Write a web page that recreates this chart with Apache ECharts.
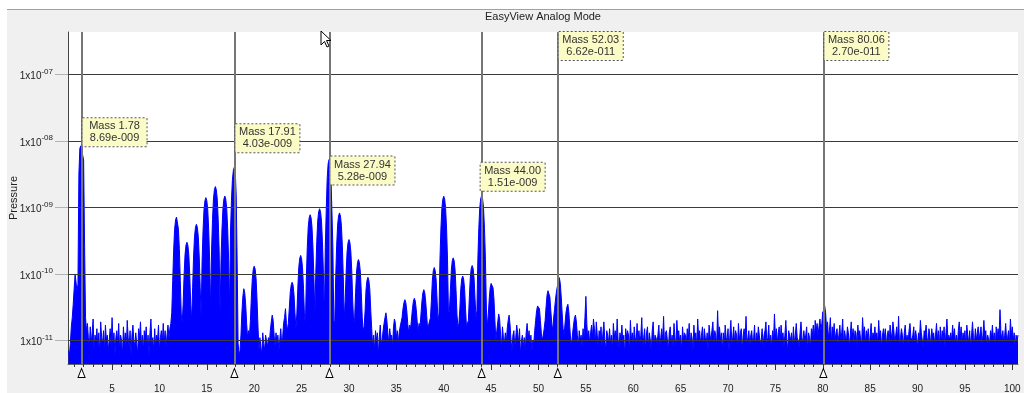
<!DOCTYPE html>
<html><head><meta charset="utf-8">
<script src="https://cdn.jsdelivr.net/npm/echarts@6/dist/echarts.min.js"></script>
<style>html,body{margin:0;padding:0;background:#fff}#chart{width:1024px;height:393px}</style>
</head><body><div id="chart"></div>
<script>
// Scan: one sample every 0.1 amu starting at 0.4 amu; pressures in units of 1e-12 Torr
const massStart = 0.4, massStep = 0.1, pressureUnit = 1e-12;

const pressure_00_10 = [7,
  6, 9, 16, 22, 35, 60, 100, 75, 55, 70,
  3200, 7800, 8500, 8690, 8200, 5200, 260, 22, 14, 18,
  11, 8, 16, 9, 13, 21, 7, 12, 10, 15,
  8, 13, 6, 19, 11, 9, 14, 7, 17, 10,
  12, 7, 10, 15, 8, 22, 9, 13, 6, 11,
  14, 9, 18, 7, 12, 10, 6, 16, 9, 13,
  7, 20, 11, 8, 14, 6, 12, 17, 10, 8,
  13, 9, 6, 15, 11, 19, 8, 12, 7, 14,
  10, 16, 8, 12, 6, 13, 21, 9, 11, 7,
  15, 8, 12, 10, 17, 7, 11, 14, 9, 18];
const pressure_10_20 = [
  9, 14, 8, 12, 17, 11, 15, 18, 26, 80,
  230, 470, 650, 720, 680, 480, 240, 80, 25, 18,
  35, 96, 195, 270, 300, 270, 195, 96, 35, 20,
  62, 180, 364, 504, 560, 504, 364, 180, 62, 22,
  155, 450, 917, 1270, 1410, 1270, 917, 450, 155, 28,
  228, 662, 1345, 1863, 2070, 1863, 1345, 662, 228, 25,
  164, 477, 970, 1340, 1490, 1340, 970, 477, 164, 30,
  443, 1290, 2620, 3630, 4030, 3600, 1500, 150, 9, 6,
  7, 12, 26, 45, 60, 52, 35, 18, 11, 14,
  12, 20, 45, 85, 118, 131, 118, 85, 40, 16];
const pressure_20_30 = [
  7, 11, 8, 6, 13, 9, 7, 12, 10, 8,
  11, 9, 14, 19, 24, 20, 12, 8, 13, 9,
  12, 7, 10, 15, 9, 11, 18, 22, 30, 18,
  14, 18, 30, 52, 68, 75, 68, 49, 26, 15,
  25, 61, 124, 171, 190, 171, 124, 61, 25, 16,
  86, 250, 507, 702, 780, 702, 507, 250, 86, 24,
  106, 307, 624, 864, 960, 864, 624, 307, 106, 22,
  250, 900, 2700, 4540, 5280, 4540, 2700, 900, 250, 20,
  18, 91, 266, 540, 747, 830, 747, 540, 266, 91,
  20, 40, 106, 215, 297, 330, 297, 215, 106, 38];
const pressure_30_40 = [
  18, 22, 53, 107, 149, 165, 149, 107, 53, 22,
  14, 16, 28, 58, 80, 89, 80, 58, 28, 15,
  8, 12, 7, 14, 10, 13, 6, 11, 17, 9,
  10, 14, 18, 22, 26, 20, 13, 9, 15, 11,
  12, 8, 16, 21, 18, 11, 14, 9, 13, 16,
  16, 22, 30, 37, 41, 37, 28, 18, 13, 17,
  15, 21, 30, 39, 43, 39, 29, 19, 14, 18,
  16, 25, 39, 52, 58, 52, 38, 24, 15, 14,
  16, 22, 40, 81, 112, 125, 112, 81, 40, 20,
  25, 163, 474, 962, 1332, 1480, 1332, 962, 474, 163];
const pressure_40_50 = [
  25, 28, 56, 114, 158, 175, 158, 114, 56, 24,
  16, 18, 30, 60, 84, 93, 84, 60, 30, 16,
  15, 20, 43, 87, 121, 134, 121, 87, 43, 22,
  28, 166, 483, 982, 1359, 1510, 1359, 982, 483, 166,
  30, 16, 24, 42, 62, 72, 74, 62, 42, 20,
  10, 14, 19, 25, 21, 12, 8, 16, 11, 9,
  13, 9, 15, 20, 24, 17, 10, 7, 12, 14,
  8, 11, 17, 13, 9, 15, 6, 10, 12, 8,
  11, 7, 13, 18, 10, 14, 9, 12, 7, 10,
  9, 14, 20, 28, 33, 35, 30, 20, 13, 10];
const pressure_50_60 = [
  12, 15, 20, 32, 48, 56, 58, 45, 28, 18,
  14, 22, 30, 42, 55, 66, 80, 88, 72, 45,
  25, 15, 12, 18, 26, 32, 35, 27, 16, 10,
  9, 13, 17, 22, 24, 19, 12, 8, 14, 10,
  12, 8, 15, 11, 22, 46, 18, 10, 14, 9,
  13, 17, 11, 21, 15, 9, 19, 12, 8, 14,
  11, 16, 8, 13, 19, 10, 7, 14, 12, 9,
  15, 9, 12, 7, 18, 11, 14, 8, 21, 10,
  8, 13, 10, 17, 9, 12, 6, 15, 11, 14,
  12, 7, 20, 10, 13, 8, 16, 11, 9, 18];
const pressure_60_70 = [
  10, 14, 9, 12, 22, 8, 11, 15, 7, 13,
  16, 8, 13, 10, 7, 14, 19, 9, 12, 11,
  9, 12, 17, 8, 11, 15, 10, 23, 8, 13,
  14, 10, 7, 13, 16, 9, 12, 8, 18, 11,
  8, 20, 11, 14, 9, 12, 7, 16, 10, 13,
  12, 9, 15, 10, 18, 8, 13, 11, 7, 17,
  10, 13, 8, 21, 11, 14, 9, 12, 16, 8,
  15, 11, 9, 13, 7, 17, 12, 10, 14, 19,
  9, 14, 12, 8, 28, 11, 16, 10, 13, 7,
  13, 8, 17, 11, 10, 15, 7, 12, 20, 9];
const pressure_70_80 = [
  11, 16, 9, 14, 12, 8, 18, 10, 13, 15,
  7, 12, 15, 10, 23, 9, 11, 14, 8, 12,
  14, 9, 11, 17, 8, 13, 10, 16, 12, 9,
  10, 15, 8, 12, 14, 19, 9, 11, 17, 8,
  12, 8, 14, 10, 25, 11, 15, 9, 13, 16,
  9, 17, 11, 13, 8, 12, 20, 10, 7, 14,
  15, 10, 13, 8, 16, 9, 12, 18, 11, 10,
  8, 13, 19, 11, 9, 14, 10, 12, 16, 7,
  13, 11, 8, 15, 12, 17, 10, 20, 14, 18,
  12, 16, 21, 14, 18, 27, 24, 33, 26, 15];
const pressure_80_90 = [
  19, 11, 14, 22, 9, 16, 12, 18, 10, 13,
  15, 9, 12, 17, 10, 13, 21, 8, 14, 11,
  10, 16, 13, 8, 12, 19, 11, 15, 9, 14,
  13, 8, 17, 11, 14, 10, 9, 22, 12, 16,
  9, 14, 11, 15, 8, 12, 18, 10, 13, 11,
  16, 10, 13, 9, 20, 11, 14, 8, 12, 15,
  11, 15, 8, 12, 14, 9, 17, 13, 10, 19,
  14, 9, 12, 16, 10, 23, 8, 11, 15, 12,
  8, 13, 17, 10, 12, 9, 14, 18, 11, 10,
  12, 16, 9, 14, 11, 8, 13, 10, 20, 13];
const pressure_90_100 = [
  10, 8, 14, 12, 17, 11, 9, 15, 12, 8,
  15, 11, 13, 9, 12, 18, 10, 14, 8, 16,
  9, 14, 10, 16, 8, 13, 21, 11, 12, 10,
  13, 10, 17, 11, 15, 9, 12, 8, 14, 19,
  11, 16, 9, 13, 10, 14, 8, 17, 12, 9,
  14, 8, 12, 19, 11, 9, 15, 10, 13, 16,
  10, 13, 16, 9, 12, 20, 11, 14, 8, 12,
  12, 9, 14, 11, 17, 10, 13, 8, 16, 11,
  15, 11, 29, 13, 10, 14, 9, 12, 18, 10,
  11, 14, 9, 21, 12, 16, 10, 13, 8, 12,
  10, 12];

// Cursor markers (mass, pressure)
const markerMass = [1.78, 17.91, 27.94, 44.00, 52.03, 80.06];
const markerPressure = [8.69e-9, 4.03e-9, 5.28e-9, 1.51e-9, 6.62e-11, 2.70e-11];

// Axis ticks / labels
const xLabelValues = [5, 10, 15, 20, 25, 30, 35, 40, 45, 50, 55, 60, 65, 70, 75, 80, 85, 90, 95, 100];
const yTickValues = [1e-11, 1e-10, 1e-9, 1e-8, 1e-7];
const xMin = 0.35, xMax = 100.6;
const yMin = 4.41e-12, yMax = 4.40e-7;

const pressure = [].concat(pressure_00_10, pressure_10_20, pressure_20_30, pressure_30_40, pressure_40_50,
  pressure_50_60, pressure_60_70, pressure_70_80, pressure_80_90, pressure_90_100);
const seriesData = pressure.map((p, i) => [+(massStart + i * massStep).toFixed(2), p * pressureUnit]);
const minorTicks = [];
for (let m = 1; m <= 100; m++) minorTicks.push(m);

function fmtP(v) {
  const s = v.toExponential(2).split('e');
  const n = parseInt(s[1], 10);
  return s[0] + 'e' + (n < 0 ? '-' : '+') + String(Math.abs(n)).padStart(3, '0');
}

// label placement (style only)
const labelAnchorTop = [false, false, false, false, true, true];
const labelDx = [1, 1, 1, -1, 1, 1];
const labelDy = [-27, -43, -3, -33, 0, 0];
const FONT = 'Liberation Sans, Arial, sans-serif';

const labelPoints = markerMass.map((m, i) => ({
  coord: [m, labelAnchorTop[i] ? yMax : markerPressure[i]],
  symbol: 'rect', symbolSize: 0,
  label: {
    show: true, position: [labelDx[i], labelDy[i]], align: 'left', verticalAlign: 'top',
    formatter: '{t|Mass ' + m.toFixed(2) + '}\n{t|' + fmtP(markerPressure[i]) + '}',
    rich: { t: { fontFamily: FONT, fontSize: 11, color: '#333', lineHeight: 12, width: 56, align: 'center' } },
    padding: [2, 4, 2, 4],
    backgroundColor: '#fbfbc6', borderColor: '#555', borderWidth: 1, borderType: 'dotted'
  }
}));
const trianglePoints = markerMass.map(m => ({
  coord: [m, yMin], symbol: 'triangle', symbolSize: [7, 9], symbolOffset: [0, 9],
  itemStyle: { color: '#fff', borderColor: '#000', borderWidth: 1 },
  label: { show: false }
}));
const gridLines = yTickValues.map(v => [
  { coord: [xMin, v], lineStyle: { color: '#3a3a3a', width: 1, type: 'solid' } },
  { coord: [xMax, v] }
]);
const markerLines = markerMass.map(m => ({ xAxis: m, lineStyle: { color: '#767676', width: 2, type: 'solid' } }));

const chart = echarts.init(document.getElementById('chart'), null, { renderer: 'canvas' });
chart.setOption({
  animation: false,
  backgroundColor: '#f0f0f0',
  textStyle: { fontFamily: FONT },
  graphic: [
    { type: 'rect', shape: { x: 0, y: 0, width: 1024, height: 9 }, style: { fill: '#fff' }, silent: true },
    { type: 'rect', shape: { x: 0, y: 0, width: 7, height: 393 }, style: { fill: '#fff' }, silent: true },
    { type: 'line', shape: { x1: 7, y1: 9.5, x2: 1024, y2: 9.5 }, style: { stroke: '#a0a0a0', lineWidth: 1 }, silent: true },
    { type: 'text', x: 543, y: 17, style: { text: 'EasyView Analog Mode', fill: '#222', font: '11px ' + FONT, align: 'center', verticalAlign: 'middle' }, silent: true },
    { type: 'polygon', z: 100, shape: { points: [[321, 31], [321, 45], [324.5, 41.5], [327, 47], [329, 46], [326.5, 40.5], [331, 40.5]] },
      style: { fill: '#fff', stroke: '#000', lineWidth: 1 }, silent: true }
  ],
  grid: { left: 68, right: 6, top: 32, bottom: 29, show: true, backgroundColor: '#fff', borderWidth: 0,
          containLabel: false, outerBoundsMode: 'none' },
  xAxis: [
    { type: 'value', min: xMin, max: xMax, position: 'bottom',
      axisLine: { show: true, onZero: false, lineStyle: { color: '#666' } },
      axisTick: { show: true, length: 6, customValues: xLabelValues, lineStyle: { color: '#333' } },
      axisLabel: { customValues: xLabelValues, margin: 20, fontSize: 10, color: '#222', fontFamily: FONT },
      splitLine: { show: false } },
    { type: 'value', min: xMin, max: xMax, position: 'bottom',
      axisLine: { show: false },
      axisTick: { show: true, length: 3, customValues: minorTicks, lineStyle: { color: '#333' } },
      axisLabel: { show: false }, splitLine: { show: false } }
  ],
  yAxis: {
    type: 'log', logBase: 10, min: yMin, max: yMax,
    name: 'Pressure', nameLocation: 'middle', nameGap: 49, nameRotate: 90, nameMoveOverlap: false,
    nameTextStyle: { fontSize: 11, color: '#222', fontFamily: FONT },
    axisLine: { show: true, lineStyle: { color: '#444', width: 1 } },
    axisTick: { show: true, length: 13, customValues: yTickValues, lineStyle: { color: '#b4b4b4' } },
    axisLabel: {
      customValues: yTickValues, margin: 15,
      formatter: v => {
        const e = Math.round(Math.log10(v));
        return '{b|1x10}{s|' + (e < 0 ? '-' : '') + String(Math.abs(e)).padStart(2, '0') + '}';
      },
      rich: {
        b: { fontSize: 10, color: '#222', fontFamily: FONT, verticalAlign: 'bottom' },
        s: { fontSize: 8, color: '#222', fontFamily: FONT, verticalAlign: 'bottom', padding: [0, 0, 6, 0] }
      }
    },
    splitLine: { show: false }
  },
  series: [
    { name: 'Pressure', type: 'line', xAxisIndex: 0, yAxisIndex: 0, data: seriesData,
      showSymbol: false, symbol: 'none', sampling: 'none', silent: true, z: 2,
      lineStyle: { color: '#0000ff', width: 1 },
      areaStyle: { color: '#0000ff', opacity: 1, origin: 'start' } },
    { name: 'markers', type: 'line', xAxisIndex: 0, yAxisIndex: 0, data: [], z: 5, silent: true,
      markLine: {
        silent: true, symbol: ['none', 'none'], animation: false,
        label: { show: false },
        data: gridLines.concat(markerLines)
      },
      markPoint: { silent: true, animation: false, data: labelPoints.concat(trianglePoints) }
    }
  ]
});
</script>
</body></html>
